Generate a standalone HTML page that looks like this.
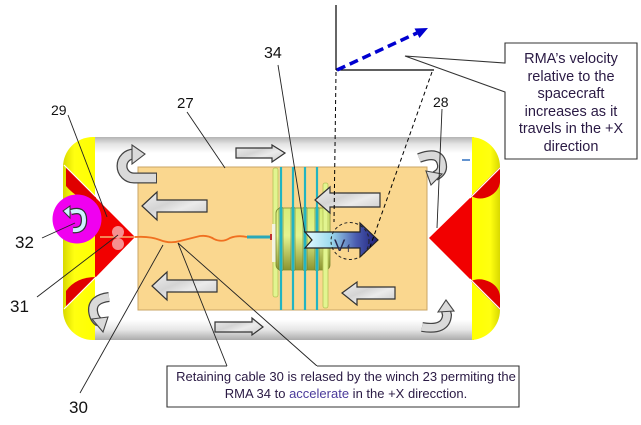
<!DOCTYPE html>
<html><head><meta charset="utf-8"><style>
html,body{margin:0;padding:0;background:#fff;}
svg{display:block;font-family:"Liberation Sans",Arial,sans-serif;}
</style></head><body>
<svg width="641" height="425" viewBox="0 0 641 425" xmlns="http://www.w3.org/2000/svg">
<defs>
<linearGradient id="tube" x1="0" y1="137" x2="0" y2="340" gradientUnits="userSpaceOnUse">
<stop offset="0" stop-color="#b4b4b4"/><stop offset="0.035" stop-color="#e4e4e4"/><stop offset="0.08" stop-color="#ffffff"/>
<stop offset="0.9" stop-color="#ffffff"/><stop offset="0.95" stop-color="#e6e6e6"/><stop offset="1" stop-color="#ababab"/>
</linearGradient>
<linearGradient id="yelL" x1="63" y1="0" x2="95" y2="0" gradientUnits="userSpaceOnUse">
<stop offset="0" stop-color="#d8d800"/><stop offset="0.35" stop-color="#ffff10"/><stop offset="1" stop-color="#ffff00"/>
</linearGradient>
<linearGradient id="yelR" x1="472" y1="0" x2="500" y2="0" gradientUnits="userSpaceOnUse">
<stop offset="0" stop-color="#ffff00"/><stop offset="0.65" stop-color="#ffff10"/><stop offset="1" stop-color="#d8d800"/>
</linearGradient>
<linearGradient id="gray" x1="0" y1="0" x2="1" y2="1">
<stop offset="0" stop-color="#f0f0f0"/><stop offset="0.4" stop-color="#d4d4d4"/><stop offset="0.6" stop-color="#ebebeb"/><stop offset="1" stop-color="#c8c8c8"/>
</linearGradient>
<linearGradient id="vf" x1="305" y1="0" x2="378" y2="0" gradientUnits="userSpaceOnUse">
<stop offset="0" stop-color="#e4fbff"/><stop offset="0.35" stop-color="#9edcef"/><stop offset="0.7" stop-color="#4a5cb0"/><stop offset="1" stop-color="#1e1e78"/>
</linearGradient>
<linearGradient id="coil" x1="0" y1="208" x2="0" y2="270" gradientUnits="userSpaceOnUse">
<stop offset="0" stop-color="#d8ec78"/><stop offset="0.45" stop-color="#e4f490"/><stop offset="1" stop-color="#8c9430"/>
</linearGradient>
</defs>

<!-- tube -->
<rect x="93" y="137" width="381" height="203" fill="url(#tube)"/>
<!-- left yellow cap -->
<path d="M95,137 H93 A30,30 0 0 0 63,167 V310 A30,30 0 0 0 93,340 H95 Z" fill="url(#yelL)"/>
<!-- right yellow cap -->
<path d="M472,137 H470 A30,30 0 0 1 500,167 V310 A30,30 0 0 1 470,340 H472 Z" fill="url(#yelR)"/>

<!-- red triangles -->
<polygon points="95,197 135,237 95,278" fill="#f20000"/>
<path d="M66,167 L96,197 L96,203 Q78,200 66,186 Z" fill="#e00000"/>
<path d="M66,307 L96,277 Q76,277 66,291 Z" fill="#e00000"/>
<line x1="64" y1="165" x2="96" y2="197" stroke="#fff" stroke-width="1.2"/>
<line x1="64" y1="309" x2="96" y2="277" stroke="#fff" stroke-width="1.2"/>
<polygon points="472,196 429,238 472,281" fill="#f20000"/>
<path d="M500,167 L471,196 Q480,201 490,196 Q499,191 500,182 Z" fill="#e00000"/>
<path d="M500,310 L471,281 Q480,277 490,282 Q499,287 500,296 Z" fill="#e00000"/>
<line x1="470" y1="198" x2="501" y2="167" stroke="#fff" stroke-width="1.2"/>
<line x1="470" y1="279" x2="501" y2="310" stroke="#fff" stroke-width="1.2"/>
<line x1="462" y1="160" x2="470" y2="160" stroke="#3070c0" stroke-width="1.5"/>

<!-- orange inner -->
<rect x="138" y="167" width="289" height="143" fill="#fad78f" stroke="#caa466" stroke-width="1"/>

<!-- cable -->
<line x1="100" y1="237" x2="136" y2="237" stroke="#f4b070" stroke-width="1.5"/>
<path d="M135,237 Q150,236 160,240 Q170,244 180,241 Q192,238 200,236 Q208,235 214,239 Q222,243 230,238 Q238,235 247,237" fill="none" stroke="#f07020" stroke-width="1.8"/>
<line x1="247" y1="237" x2="272" y2="237" stroke="#2aa8b8" stroke-width="3"/>
<rect x="270" y="234" width="3" height="6" fill="#c03030"/>
<circle cx="118" cy="232" r="6" fill="#f5a0a0" opacity="0.9"/>
<circle cx="118" cy="244" r="6" fill="#f5a0a0" opacity="0.9"/>

<!-- coil assembly -->
<rect x="273" y="168" width="5" height="129" rx="2" fill="#e2f590" stroke="#b4c458" stroke-width="0.8"/>
<rect x="272" y="224" width="5" height="38" fill="#f4f4e0"/>
<rect x="276" y="208" width="54" height="62" rx="5" fill="url(#coil)" stroke="#7c8a30" stroke-width="0.8"/>
<g fill="#7ad8c8" stroke="#5a7a30" stroke-width="0.7" opacity="0.8">
<rect x="279" y="207" width="4" height="64" rx="2"/>
<rect x="291" y="207" width="4" height="64" rx="2"/>
<rect x="303" y="207" width="4" height="64" rx="2"/>
<rect x="315" y="207" width="4" height="64" rx="2"/>
</g>
<g stroke="#22b4c2" stroke-width="2.2">
<line x1="281" y1="167" x2="281" y2="310"/>
<line x1="293" y1="167" x2="293" y2="310"/>
<line x1="305" y1="167" x2="305" y2="310"/>
<line x1="317" y1="167" x2="317" y2="310"/>
</g>
<rect x="323" y="183" width="5" height="125" rx="2" fill="#e2f590" stroke="#b4c458" stroke-width="0.8"/>

<!-- straight block arrows -->
<g fill="url(#gray)" stroke="#333" stroke-width="1.2" stroke-linejoin="miter">
<polygon points="236,148 272,148 272,145 285,153 272,162 272,158 236,158"/>
<polygon points="142,206 157,192 157,200 207,200 207,212 157,212 157,220"/>
<polygon points="152,286 167,272 167,280 217,280 217,292 167,292 167,300"/>
<polygon points="315,200 330,187 330,193 380,193 380,207 330,207 330,213"/>
<polygon points="342,293 357,282 357,287 395,287 395,299 357,299 357,305"/>
<polygon points="215,322 252,322 252,318 263,327 252,335 252,332 215,332"/>
</g>

<!-- curved arrows -->
<g fill="none" stroke-linecap="butt">
<path d="M134,154 A12,12 0 0 0 134,178 L157,178" stroke="#444" stroke-width="11"/>
<path d="M134,154 A12,12 0 0 0 134,178 L156,178" stroke="#dadada" stroke-width="8.5"/>
<path d="M419,158 Q440,150 442,165 Q443,172 435,176" stroke="#444" stroke-width="10"/>
<path d="M419,158 Q440,150 442,165 Q443,172 435,176" stroke="#dadada" stroke-width="7.5"/>
<path d="M109,297 Q92,299 93,311 Q94,319 99,322" stroke="#444" stroke-width="10"/>
<path d="M109,297 Q92,299 93,311 Q94,319 99,322" stroke="#dadada" stroke-width="7.5"/>
<path d="M422,327 Q446,331 447,315 L446,311" stroke="#444" stroke-width="10"/>
<path d="M422,327 Q446,331 447,315 L446,311" stroke="#dadada" stroke-width="7.5"/>
</g>
<g fill="#dadada" stroke="#444" stroke-width="1.1">
<polygon points="132,145 145,154 132,164"/>
<polygon points="426,171 442,174 431,185"/>
<polygon points="92,319 108,317 103,332"/>
<polygon points="438,312 454,311 446,300"/>
</g>

<!-- Vf arrow -->
<polygon points="305,232 360,232 360,223 378,240 360,257 360,248 305,248 312,240" fill="url(#vf)" stroke="#222" stroke-width="1.2"/>
<text x="334" y="251" font-size="17" fill="#2a2a50">V</text>
<text x="347" y="252" font-size="10" fill="#2a2a50">f</text>
<ellipse cx="350" cy="241" rx="19" ry="18.5" fill="none" stroke="#222" stroke-width="1" stroke-dasharray="3,2.5"/>

<!-- magenta circle -->
<circle cx="77" cy="219" r="24.5" fill="#f000f0"/>
<path d="M71,212 Q84,208 84,220 Q84,231 73,230" fill="none" stroke="#333" stroke-width="6.5"/>
<path d="M71,212 Q84,208 84,220 Q84,231 73,230" fill="none" stroke="#cdf2ff" stroke-width="4"/>
<polygon points="70,206 70,218 63,211" fill="#cdf2ff" stroke="#333" stroke-width="1"/>

<!-- top diagram lines -->
<line x1="336" y1="5" x2="336" y2="70" stroke="#000" stroke-width="1.2"/>
<line x1="336" y1="70" x2="434" y2="70" stroke="#000" stroke-width="1.2"/>
<line x1="337" y1="70" x2="417" y2="33" stroke="#0000d0" stroke-width="3.5" stroke-dasharray="9,5"/>
<polygon points="428,28 419.5,38 414.5,28.5" fill="#0000d0"/>
<line x1="336" y1="72" x2="334" y2="222" stroke="#000" stroke-width="1" stroke-dasharray="4,3"/>
<line x1="432" y1="72" x2="370" y2="247" stroke="#000" stroke-width="1" stroke-dasharray="4,3"/>

<!-- leader lines -->
<g stroke="#222" stroke-width="0.9" fill="none">
<line x1="68" y1="115" x2="107" y2="217"/>
<line x1="187" y1="112" x2="225" y2="168"/>
<line x1="278" y1="65" x2="305" y2="233"/>
<line x1="442" y1="109" x2="437" y2="228"/>
<line x1="42" y1="238" x2="75" y2="223"/>
<line x1="37" y1="297" x2="118" y2="235"/>
<line x1="80" y1="393" x2="163" y2="245"/>
<line x1="227" y1="366" x2="178" y2="243"/>
<line x1="317" y1="366" x2="178" y2="243"/>
</g>

<!-- number labels -->
<g fill="#111">
<text x="51" y="115" font-size="14">29</text>
<text x="177" y="108" font-size="15">27</text>
<text x="433" y="107" font-size="14">28</text>
<text x="264" y="58" font-size="16">34</text>
<text x="15" y="248" font-size="17">32</text>
<text x="10" y="312" font-size="17">31</text>
<text x="69" y="413" font-size="17">30</text>
</g>

<!-- top callout -->
<path d="M505,43 H637 V159 H505 V92 L405,56 L505,63 Z" fill="#fff" stroke="#333" stroke-width="1.1"/>
<g font-size="14.5" fill="#2a1a44" text-anchor="middle">
<text x="571" y="63">RMA’s velocity</text>
<text x="571" y="81">relative to the</text>
<text x="571" y="98">spacecraft</text>
<text x="571" y="116">increases as it</text>
<text x="571" y="133">travels in the +X</text>
<text x="571" y="151">direction</text>
</g>

<!-- bottom callout -->
<path d="M227,366 H167 V407 H519 V366 H317" fill="#fff" stroke="#333" stroke-width="1.1"/>
<g font-size="13" fill="#2a1a44" text-anchor="middle">
<text x="346" y="381">Retaining cable 30 is relased by the winch 23 permiting the</text>
<text x="346" y="398">RMA 34 to <tspan fill="#4a3a9a">accelerate</tspan> in the +X direcction.</text>
</g>
</svg>
</body></html>
